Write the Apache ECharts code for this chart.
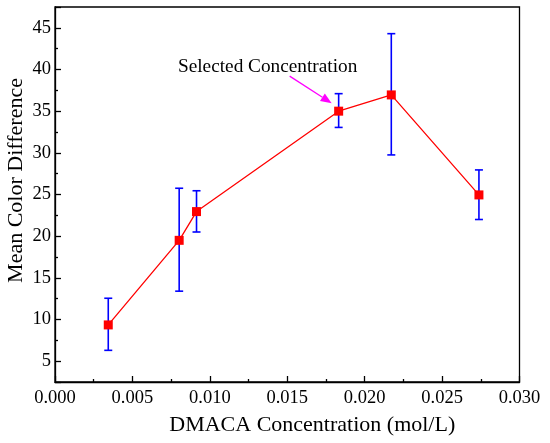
<!DOCTYPE html>
<html>
    <head>
        <meta charset="utf-8">
        <script src="https://cdn.jsdelivr.net/npm/echarts@6/dist/echarts.min.js"></script>
    </head>
    <body style="margin: 0">
        <div id="main" style="width: 550px; height: 443px"></div>
        <script type="text/javascript">
            // data
            const conc = [0.00344, 0.00802, 0.00914, 0.01832, 0.02172, 0.02738];
            const meanDiff = [9.35, 19.5, 22.95, 35.0, 36.95, 24.95];
            const errLow = [6.3, 13.4, 20.5, 33.05, 29.75, 22.0];
            const errHigh = [12.55, 25.75, 25.45, 37.1, 44.3, 27.95];
            const selectedIndex = 3;
            const noteText = 'Selected Concentration';

            var chartDom = document.getElementById('main');
            var myChart = echarts.init(chartDom);
            var option;

            const font = '"Liberation Serif", "Times New Roman", serif';

            const points = [];
            const bars = [];
            for (let i = 0; i < conc.length; i++) {
                points.push([conc[i], meanDiff[i]]);
                bars.push([conc[i], errLow[i], errHigh[i]]);
            }

            function renderBar(params, api) {
                const lo = api.coord([api.value(0), api.value(1)]);
                const hi = api.coord([api.value(0), api.value(2)]);
                const w = 4;
                const style = { stroke: '#0000ff', lineWidth: 1.6 };
                return {
                    type: 'group',
                    children: [
                        { type: 'line', shape: { x1: lo[0], y1: lo[1], x2: hi[0], y2: hi[1] }, style: style },
                        { type: 'line', shape: { x1: lo[0] - w, y1: lo[1], x2: lo[0] + w, y2: lo[1] }, style: style },
                        { type: 'line', shape: { x1: hi[0] - w, y1: hi[1], x2: hi[0] + w, y2: hi[1] }, style: style }
                    ]
                };
            }

            option = {
                animation: false,
                backgroundColor: '#ffffff',
                grid: {
                    left: 55, right: 30.5, top: 7, bottom: 61,
                    outerBoundsMode: 'none',
                    containLabel: false,
                    show: true, borderColor: '#000', borderWidth: 1.3
                },
                xAxis: {
                    type: 'value',
                    min: 0, max: 0.03, interval: 0.005,
                    name: 'DMACA Concentration (mol/L)',
                    nameLocation: 'middle',
                    nameGap: 32,
                    nameMoveOverlap: false,
                    nameTextStyle: { fontFamily: font, fontSize: 22, color: '#000', padding: [0, 0, 0, 50] },
                    axisLine: { lineStyle: { color: '#000', width: 1.3 } },
                    axisTick: { inside: true, length: 6, lineStyle: { color: '#000', width: 1.3 } },
                    minorTick: { show: true, splitNumber: 2, length: 3, lineStyle: { color: '#000', width: 1.3 } },
                    axisLabel: {
                        fontFamily: font, fontSize: 18.5, color: '#000', margin: 7,
                        formatter: function (v) { return v.toFixed(3); }
                    },
                    splitLine: { show: false }
                },
                yAxis: {
                    type: 'value',
                    min: 2.5, max: 47.5, splitNumber: 9,
                    name: 'Mean Color Difference',
                    nameLocation: 'middle',
                    nameGap: 28,
                    nameMoveOverlap: false,
                    nameTextStyle: { fontFamily: font, fontSize: 22, color: '#000', padding: [0, 0, 0, 28] },
                    axisLine: { lineStyle: { color: '#000', width: 1.3 } },
                    axisTick: { inside: true, length: 6, lineStyle: { color: '#000', width: 1.3 } },
                    minorTick: { show: true, splitNumber: 2, length: 3, lineStyle: { color: '#000', width: 1.3 } },
                    axisLabel: {
                        fontFamily: font, fontSize: 18.5, color: '#000', margin: 4,
                        showMinLabel: false, showMaxLabel: false,
                        formatter: function (v) { return v % 5 === 0 ? String(v) : ''; }
                    },
                    splitLine: { show: false }
                },
                series: [
                    {
                        type: 'line',
                        data: points,
                        symbol: 'rect',
                        symbolSize: 9,
                        itemStyle: { color: '#ff0000' },
                        lineStyle: { color: '#ff0000', width: 1.3 },
                        z: 3
                    },
                    {
                        type: 'custom',
                        data: bars,
                        renderItem: renderBar,
                        encode: { x: 0, y: [1, 2] },
                        z: 2
                    }
                ]
            };

            option && myChart.setOption(option);

            // annotation placed relative to the selected point
            const p = myChart.convertToPixel({ seriesIndex: 0 }, points[selectedIndex]);
            const tip = [p[0] - 7, p[1] - 8];
            const start = [p[0] - 49, p[1] - 35];
            const dx = tip[0] - start[0], dy = tip[1] - start[1];
            const len = Math.sqrt(dx * dx + dy * dy);
            const ux = dx / len, uy = dy / len;
            const headL = 11, headW = 4.5;
            const base = [tip[0] - ux * headL, tip[1] - uy * headL];
            myChart.setOption({
                graphic: [
                    {
                        type: 'text',
                        x: p[0] - 71, y: p[1] - 44,
                        style: {
                            text: noteText, fontFamily: font, fontSize: 19.3, fill: '#000',
                            align: 'center', verticalAlign: 'middle'
                        }
                    },
                    {
                        type: 'line',
                        shape: { x1: start[0], y1: start[1], x2: base[0], y2: base[1] },
                        style: { stroke: '#ff00ff', lineWidth: 1.3 }
                    },
                    {
                        type: 'polygon',
                        shape: {
                            points: [
                                tip,
                                [base[0] - uy * headW, base[1] + ux * headW],
                                [base[0] + uy * headW, base[1] - ux * headW]
                            ]
                        },
                        style: { fill: '#ff00ff' }
                    }
                ]
            });
        </script>
    </body>
</html>
